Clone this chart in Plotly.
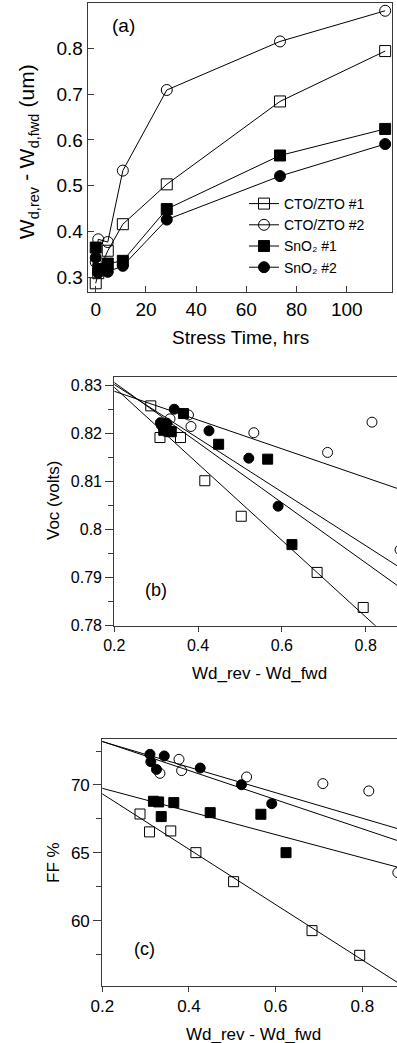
import numpy as np
import plotly.graph_objects as go

# ---------------- data ----------------
stress_time = [0, 1, 4.8, 10.8, 28.3, 73.4, 115.3]

series_names = ["CTO/ZTO #1", "CTO/ZTO #2", "SnO\u2082 #1", "SnO\u2082 #2"]

wd_cto1 = [0.287, 0.309, 0.358, 0.416, 0.503, 0.684, 0.794]
wd_cto2 = [0.333, 0.383, 0.377, 0.533, 0.709, 0.815, 0.882]
wd_sno1 = [0.365, 0.318, 0.330, 0.336, 0.449, 0.566, 0.624]
wd_sno2 = [0.343, 0.310, 0.312, 0.325, 0.426, 0.521, 0.591]

voc_cto1 = [0.8258, 0.8192, 0.8192, 0.8102, 0.8028, 0.7911, 0.7838]
voc_cto2 = [0.8231, 0.8215, 0.8239, 0.8202, 0.8161, 0.8224, 0.7958]
voc_sno1 = [0.8242, 0.8207, 0.8205, 0.8204, 0.8178, 0.8147, 0.7969]
voc_sno2 = [0.8251, 0.8223, 0.8218, 0.8222, 0.8206, 0.8149, 0.8049]

ff_cto1 = [67.86, 66.54, 66.61, 65.01, 62.87, 59.26, 57.44]
ff_cto2 = [70.86, 71.06, 71.89, 70.59, 70.10, 69.56, 63.54]
ff_sno1 = [68.70, 68.80, 68.75, 67.67, 67.96, 67.84, 65.01]
ff_sno2 = [72.14, 72.26, 71.72, 71.15, 71.25, 70.02, 68.62]

wd_all = [wd_cto1, wd_cto2, wd_sno1, wd_sno2]
voc_all = [voc_cto1, voc_cto2, voc_sno1, voc_sno2]
ff_all = [ff_cto1, ff_cto2, ff_sno1, ff_sno2]
symbols = ["square-open", "circle-open", "square", "circle"]

FONT = "Liberation Sans, Arial, sans-serif"
W, H = 397, 1043
AX = "#3a3a3a"

fig = go.Figure()

# ---------------- panel (a) ----------------
for name, wd, sym in zip(series_names, wd_all, symbols):
    fig.add_trace(go.Scatter(
        x=stress_time, y=wd, mode="lines+markers", name=name,
        line=dict(color="black", width=1),
        marker=dict(symbol=sym, size=11, color="black", line=dict(color="black", width=1)),
        xaxis="x", yaxis="y", showlegend=True))

# ---------------- panels (b) and (c) ----------------
fit_x = np.array([0.15, 1.0])
for xa, ya, vals_all in [("x2", "y2", voc_all), ("x3", "y3", ff_all)]:
    for wd, vals, sym in zip(wd_all, vals_all, symbols):
        fig.add_trace(go.Scatter(
            x=wd, y=vals, mode="markers",
            marker=dict(symbol=sym, size=10, color="black", line=dict(color="black", width=1)),
            xaxis=xa, yaxis=ya, showlegend=False))
        k, b = np.polyfit(wd, vals, 1)
        fig.add_trace(go.Scatter(
            x=fit_x, y=k * fit_x + b, mode="lines",
            line=dict(color="black", width=1),
            xaxis=xa, yaxis=ya, showlegend=False, hoverinfo="skip"))


def px_x(p):
    return p / W


def px_y(p):
    return 1 - p / H


common_axis = dict(showline=True, linecolor=AX, linewidth=1.2, showgrid=False,
                   zeroline=False, tickcolor=AX, tickwidth=1, automargin=False)

fig.update_layout(
    width=W, height=H, margin=dict(l=0, r=0, t=0, b=0),
    paper_bgcolor="white", plot_bgcolor="white",
    font=dict(family=FONT, color="black"),
    showlegend=True,
    legend=dict(x=px_x(244), y=px_y(188), xanchor="left", yanchor="top",
                font=dict(size=14, family=FONT), bgcolor="rgba(0,0,0,0)",
                itemwidth=30, tracegroupgap=0),
    xaxis=dict(domain=[px_x(87.7), px_x(391.7)], range=[-3.2, 117.9],
               tickvals=[0, 20, 40, 60, 80, 100], ticks="inside", ticklen=6,
               mirror=True, tickfont=dict(size=19), anchor="y", **common_axis),
    yaxis=dict(domain=[px_y(291.7), px_y(3.3)], range=[0.2686, 0.8983],
               tickvals=[0.3, 0.4, 0.5, 0.6, 0.7, 0.8], ticks="inside", ticklen=6,
               mirror=True, tickfont=dict(size=19), anchor="x", **common_axis),
    xaxis2=dict(domain=[px_x(114.3), 1.0], range=[0.2, 0.8747],
                tickvals=[0.2, 0.4, 0.6, 0.8], ticks="outside", ticklen=5,
                mirror=True, tickfont=dict(size=16), anchor="y2", **common_axis),
    yaxis2=dict(domain=[px_y(625.7), px_y(377.3)], range=[0.78, 0.83175],
                tickvals=[0.78, 0.79, 0.8, 0.81, 0.82, 0.83], ticks="outside", ticklen=8,
                minor=dict(dtick=0.005, tick0=0.78, ticks="outside", ticklen=5, tickcolor=AX),
                mirror=False, tickfont=dict(size=16), anchor="x2", **common_axis),
    xaxis3=dict(domain=[px_x(102.3), 1.0], range=[0.2, 0.8801],
                tickvals=[0.2, 0.4, 0.6, 0.8], ticks="outside", ticklen=5,
                mirror=True, tickfont=dict(size=17), anchor="y3", **common_axis),
    yaxis3=dict(domain=[px_y(985.7), px_y(739)], range=[55.2, 73.39],
                tickvals=[60, 65, 70], ticks="outside", ticklen=8,
                minor=dict(dtick=2.5, tick0=0, ticks="outside", ticklen=5, tickcolor=AX),
                mirror=False, tickfont=dict(size=17), anchor="x3", **common_axis),
)

annos = [
    dict(text="Stress Time, hrs", x=240, y=337, size=19, angle=0),
    dict(text="(a)", x=123, y=25, size=19, angle=0),
    dict(text="Voc (volts)", x=53, y=500, size=17, angle=-90),
    dict(text="Wd_rev - Wd_fwd", x=259, y=673, size=17, angle=0),
    dict(text="(b)", x=156, y=590, size=18, angle=0),
    dict(text="FF %", x=53, y=862, size=17, angle=-90),
    dict(text="Wd_rev - Wd_fwd", x=253, y=1034, size=17, angle=0),
    dict(text="(c)", x=144.5, y=949, size=18, angle=0),
    # rotated y-title of panel (a), written as main text pieces plus subscripts
    dict(text="W", x=26, y=229.2, size=21, angle=-90),
    dict(text="d,rev", x=34, y=203.2, size=14.5, angle=-90),
    dict(text="-", x=26, y=177.8, size=21, angle=-90),
    dict(text="W", x=26, y=158.5, size=21, angle=-90),
    dict(text="d,fwd", x=34, y=131.3, size=14.5, angle=-90),
    dict(text="(um)", x=26, y=86.5, size=21, angle=-90),
]
for a in annos:
    fig.add_annotation(text=a["text"], x=px_x(a["x"]), y=px_y(a["y"]), xref="paper", yref="paper",
                       xanchor="center", yanchor="middle", showarrow=False,
                       textangle=a["angle"], font=dict(size=a["size"], family=FONT, color="black"))

fig.write_html("out.html")
